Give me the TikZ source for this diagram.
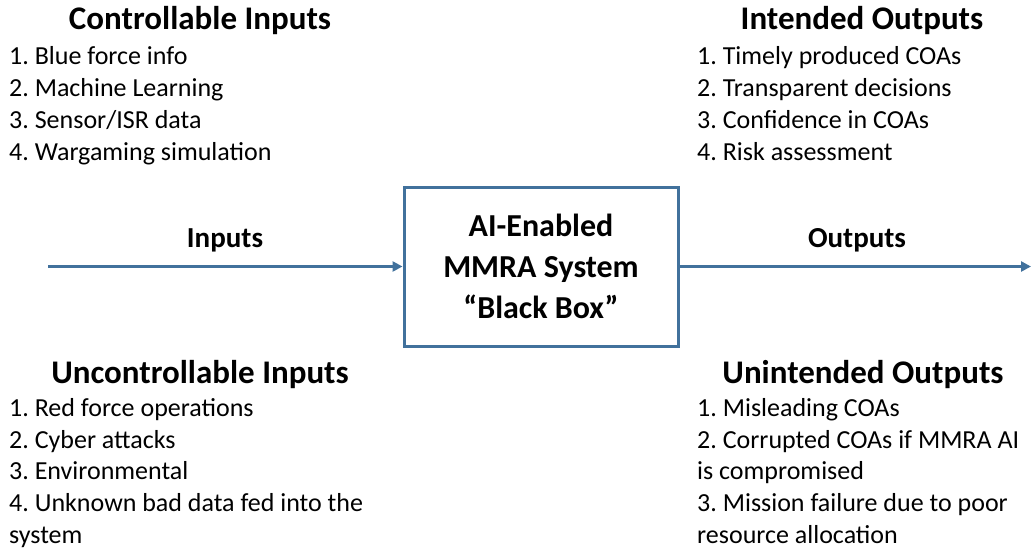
\documentclass[tikz,border=0pt]{standalone}
\usepackage{fontspec}
\setmainfont{Carlito}
\usetikzlibrary{arrows.meta}
\definecolor{boxblue}{RGB}{65,113,156}
\frenchspacing
\tikzset{
  head/.style={anchor=base, inner sep=0pt, font=\fontsize{33}{40}\selectfont\bfseries},
  item/.style={anchor=base west, inner sep=0pt, font=\fontsize{26}{32}\selectfont},
  flowlabel/.style={anchor=base, inner sep=0pt, font=\fontsize{29}{35}\selectfont\bfseries},
  flow/.style={draw=boxblue, line width=3pt, -{Triangle[length=10pt,width=10pt]}},
}

\begin{document}
\begin{tikzpicture}[x=1pt,y=-1pt]
\useasboundingbox (0,0) rectangle (1031,552);
%% the system box
\node (sys) at (541,266.5) [draw=boxblue, line width=3pt, minimum width=274pt, minimum height=159pt,
  align=center, font=\fontsize{32}{41}\selectfont\bfseries] {AI-Enabled\\MMRA System\\“Black Box”};
%% inputs
\node (chead) at (200,29) [head] {Controllable Inputs};
\foreach \t [count=\i] in {1. Blue force info, 2. Machine Learning, 3. Sensor/ISR data, 4. Wargaming simulation}
  \node (c\i) at (9, 32+32*\i) [item] {\t};
\node (uhead) at (200,383) [head] {Uncontrollable Inputs};
\foreach \t [count=\i] in {1. Red force operations, 2. Cyber attacks, 3. Environmental, 4. Unknown bad data fed into the, system}
  \node (u\i) at (9, 385+31.6*\i) [item] {\t};
%% outputs
\node (ihead) at (862,29) [head] {Intended Outputs};
\foreach \t [count=\i] in {1. Timely produced COAs, 2. Transparent decisions, 3. Confidence in COAs, 4. Risk assessment}
  \node (o\i) at (697, 32+32*\i) [item] {\t};
\node (nhead) at (863,383) [head] {Unintended Outputs};
\foreach \t [count=\i] in {1. Misleading COAs, 2. Corrupted COAs if MMRA AI, is compromised, 3. Mission failure due to poor, resource allocation}
  \node (n\i) at (697, 385+31.6*\i) [item] {\t};
%% arrows
\coordinate (src) at (48,266.5);
\coordinate (sink) at (1031,266.5);
\draw [flow] (src) -- (sys.west);
\draw [flow] (sys.east) -- (sink);
\node (inlbl) at (225,247) [flowlabel] {Inputs};
\node (outlbl) at (857,247) [flowlabel] {Outputs};
\end{tikzpicture}
\end{document}
